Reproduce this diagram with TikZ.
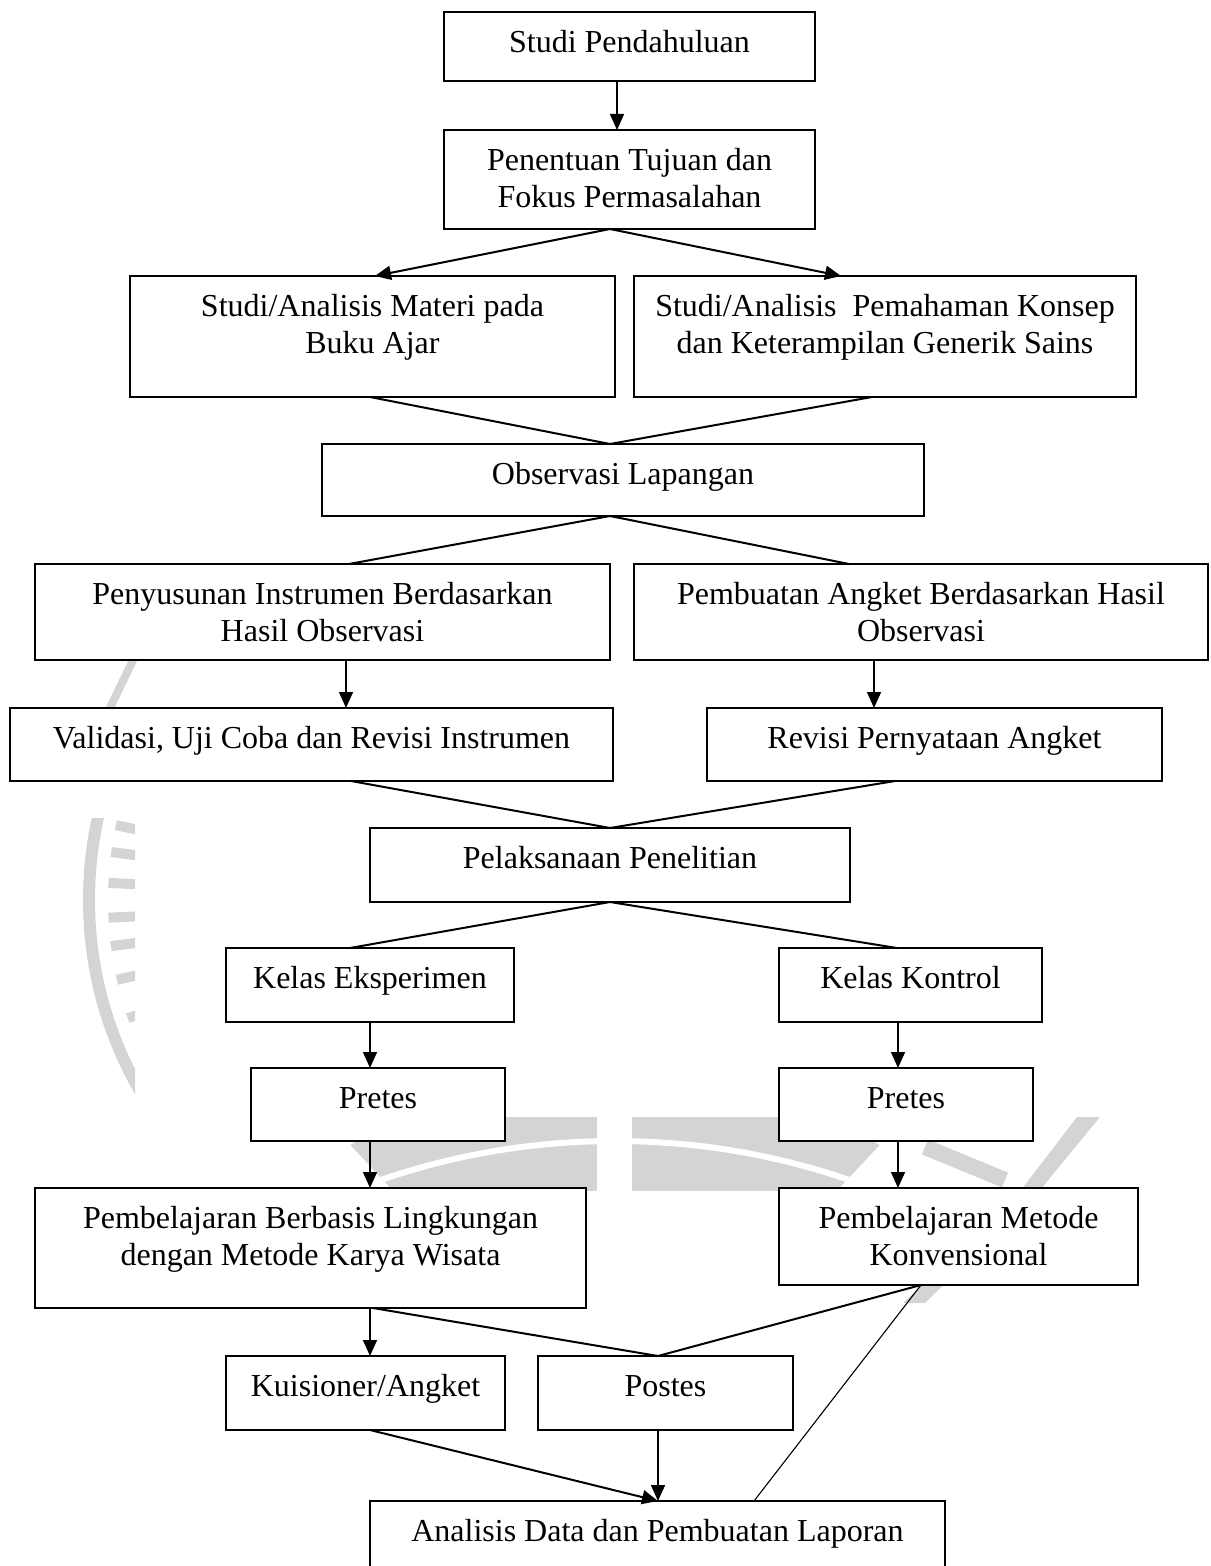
\documentclass[tikz,border=0pt]{standalone}
\usepackage{fontspec}
\setmainfont{Liberation Serif}
\usetikzlibrary{arrows.meta,calc}
\tikzset{
  flowbox/.style={draw, fill=white, line width=1pt, inner sep=0pt, outer sep=0pt,
    anchor=north west, font=\fontsize{16pt}{18.5pt}\selectfont},
  arr/.style={line width=0.75pt, -{Triangle[length=8pt,width=7pt]}},
  link/.style={line width=1pt},
  thinlink/.style={line width=0.55pt},
  wmark/.style={fill=black!17, draw=none}
}
\colorlet{wmcol}{black!17}
\newcommand\fbtext[3]{\parbox[c][\dimexpr #2pt/2\relax][t]{\dimexpr #1pt/2\relax}{\centering\rule{0pt}{20.3pt}#3\par}}
\begin{document}
\begin{tikzpicture}[x=0.5pt,y=-0.5pt]
\useasboundingbox (0,0) rectangle (1210,1566);
\clip (0,0) rectangle (1210,1566);

% ---- faint watermark ----
\begin{scope}
  \clip (0,818) rectangle (135,1100);
  \fill[wmcol, even odd rule] (471,900) circle[radius=388] (471,900) circle[radius=376];
  \foreach \a in {-11.9,-7.6,-2.7,2.8,7.3,12.7,19.0}
    \draw[wmcol, line width=5pt] ($(471,900)+({-363*cos(\a)},{363*sin(\a)})$) -- ($(471,900)+({-320*cos(\a)},{320*sin(\a)})$);
\end{scope}
\draw[wmcol, line width=4pt] (137,652) -- (106,716);
\begin{scope}
  \clip (0,1117) rectangle (1210,1190);
  \begin{scope}
    \clip (308,1100) -- (401,1199) -- (829,1199) -- (922,1100) -- cycle;
    \fill[wmcol] (615,1560) circle[radius=492];
    \draw[white, line width=3pt] (615,1861) circle[radius=720];
  \end{scope}
  \fill[white] (597,1110) rectangle (632,1200);
  \draw[wmcol, line width=8pt] (925,1147) -- (1005,1180);
\end{scope}
\fill[wmark] (1077,1117) -- (1100,1117) -- (1040,1190) -- (925,1303) -- (903,1303) -- (1021,1190) -- cycle;

% ---- boxes ----
\node[flowbox] (sp)   at (444,12)   {\fbtext{371}{69}{Studi Pendahuluan}};
\node[flowbox] (ptj)  at (444,130)  {\fbtext{371}{99}{Penentuan Tujuan dan\\Fokus Permasalahan}};
\node[flowbox] (sam)  at (130,276)  {\fbtext{485}{121}{Studi/Analisis Materi pada\\Buku Ajar}};
\node[flowbox] (sap)  at (634,276)  {\fbtext{502}{121}{Studi/Analisis\ \ Pemahaman Konsep\\dan Keterampilan Generik Sains}};
\node[flowbox] (obs)  at (322,444)  {\fbtext{602}{72}{Observasi Lapangan}};
\node[flowbox] (pen)  at (35,564)   {\fbtext{575}{96}{Penyusunan Instrumen Berdasarkan\\Hasil Observasi}};
\node[flowbox] (pem)  at (634,564)  {\fbtext{574}{96}{Pembuatan Angket Berdasarkan Hasil\\Observasi}};
\node[flowbox] (val)  at (10,708)   {\fbtext{603}{73}{Validasi, Uji Coba dan Revisi Instrumen}};
\node[flowbox] (rev)  at (707,708)  {\fbtext{455}{73}{Revisi Pernyataan Angket}};
\node[flowbox] (pel)  at (370,828)  {\fbtext{480}{74}{Pelaksanaan Penelitian}};
\node[flowbox] (ke)   at (226,948)  {\fbtext{288}{74}{Kelas Eksperimen}};
\node[flowbox] (kk)   at (779,948)  {\fbtext{263}{74}{Kelas Kontrol}};
\node[flowbox] (pre1) at (251,1068) {\fbtext{254}{73}{Pretes}};
\node[flowbox] (pre2) at (779,1068) {\fbtext{254}{73}{Pretes}};
\node[flowbox] (pbl)  at (35,1188)  {\fbtext{551}{120}{Pembelajaran Berbasis Lingkungan\\dengan Metode Karya Wisata}};
\node[flowbox] (pmk)  at (779,1188) {\fbtext{359}{97}{Pembelajaran Metode\\Konvensional}};
\node[flowbox] (kui)  at (226,1356) {\fbtext{279}{74}{Kuisioner/Angket}};
\node[flowbox] (pos)  at (538,1356) {\fbtext{255}{74}{Postes}};
\node[flowbox] (ana)  at (370,1501) {\fbtext{575}{90}{Analisis Data dan Pembuatan Laporan}};

% ---- connectors ----
\draw[arr] ($(sp.south west)+(173,0)$) -- ($(ptj.north west)+(173,0)$);
\draw[arr, line width=1pt] ($(ptj.south west)+(166,0)$) -- ($(sam.north west)+(245,0)$);
\draw[arr, line width=1pt] ($(ptj.south west)+(166,0)$) -- ($(sap.north west)+(207,0)$);
\draw[link] ($(sam.south west)+(240,0)$) -- ($(obs.north west)+(288,0)$);
\draw[link] ($(sap.south west)+(238,0)$) -- ($(obs.north west)+(288,0)$);
\draw[link] ($(obs.south west)+(288,0)$) -- ($(pen.north west)+(314,0)$);
\draw[link] ($(obs.south west)+(288,0)$) -- ($(pem.north west)+(215,0)$);
\draw[arr] ($(pen.south west)+(311,0)$) -- ($(val.north west)+(336,0)$);
\draw[arr] ($(pem.south west)+(240,0)$) -- ($(rev.north west)+(167,0)$);
\draw[link] ($(val.south west)+(341,0)$) -- ($(pel.north west)+(240,0)$);
\draw[link] ($(rev.south west)+(188,0)$) -- ($(pel.north west)+(240,0)$);
\draw[link] ($(pel.south west)+(240,0)$) -- ($(ke.north west)+(124,0)$);
\draw[link] ($(pel.south west)+(240,0)$) -- ($(kk.north west)+(118,0)$);
\draw[arr] ($(ke.south west)+(144,0)$) -- ($(pre1.north west)+(119,0)$);
\draw[arr] ($(kk.south west)+(119,0)$) -- ($(pre2.north west)+(119,0)$);
\draw[arr] ($(pre1.south west)+(119,0)$) -- ($(pbl.north west)+(335,0)$);
\draw[arr] ($(pre2.south west)+(119,0)$) -- ($(pmk.north west)+(119,0)$);
\draw[arr] ($(pbl.south west)+(335,0)$) -- ($(kui.north west)+(144,0)$);
\draw[link] ($(pbl.south west)+(338,0)$) -- ($(pos.north west)+(120,0)$);
\draw[link] ($(pmk.south west)+(142,0)$) -- ($(pos.north west)+(120,0)$);
\draw[thinlink] ($(pmk.south west)+(142,0)$) -- ($(ana.north west)+(384,0)$);
\draw[arr, line width=1pt] ($(kui.south west)+(144,0)$) -- ($(ana.north west)+(288,0)$);
\draw[arr] ($(pos.south west)+(120,0)$) -- ($(ana.north west)+(288,0)$);
\end{tikzpicture}
\end{document}
